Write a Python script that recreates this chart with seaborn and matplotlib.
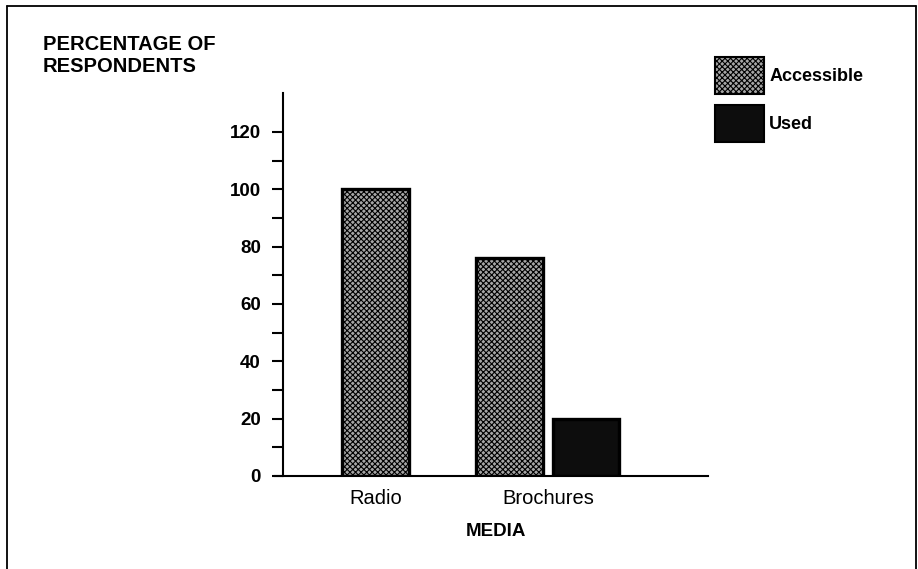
import matplotlib
matplotlib.use("Agg")
import matplotlib.pyplot as plt
import seaborn as sns
import pandas as pd
import numpy as np
from matplotlib.patches import Patch
from matplotlib.lines import Line2D
from matplotlib.ticker import FixedLocator

# data
media = ['Radio', 'Brochures']
groups = ['Accessible', 'Used']
accessible = [100, 76]
used = [np.nan, 20]   # no "Used" bar for Radio
y_ticks = [0, 20, 40, 60, 80, 100, 120]

df = pd.DataFrame({
    'media': media * 2,
    'group': [groups[0]] * len(media) + [groups[1]] * len(media),
    'value': accessible + used,
})

sns.set_theme(style="white")
plt.rcParams['font.family'] = ['Liberation Sans', 'DejaVu Sans']
plt.rcParams['text.color'] = 'black'
plt.rcParams['hatch.linewidth'] = 0.8

acc_color = '#a6a6a6'
used_color = '#0d0d0d'

fig = plt.figure(figsize=(9.18, 5.69), dpi=100)
ax = fig.add_axes([283 / 918, 1 - 476 / 569, (708 - 283) / 918, (476 - 93) / 569])

sns.barplot(data=df, x='media', y='value', hue='group', hue_order=groups,
            palette=[acc_color, used_color], width=0.884, gap=0.12,
            edgecolor='black', linewidth=2.4, legend=False, ax=ax)

# hatch the accessible bars, and center lone bars on their category
bars = [p for p in ax.patches if np.isfinite(p.get_height()) and p.get_height() > 0]
by_cat = {}
for p in bars:
    c = int(round(p.get_x() + p.get_width() / 2))
    by_cat.setdefault(c, []).append(p)
    if np.allclose(p.get_facecolor()[:3], matplotlib.colors.to_rgb(acc_color)):
        p.set_hatch('xxxxxx')
for c, ps in by_cat.items():
    if len(ps) == 1:
        ps[0].set_x(c - ps[0].get_width() / 2)

ax.set_xlim(-0.54, 1.93)
ax.set_ylim(0, 133.6)
ax.set_yticks(y_ticks)
ax.yaxis.set_minor_locator(FixedLocator([t + 10 for t in y_ticks[:-1]]))
ax.set_yticklabels([str(t) for t in y_ticks], fontsize=13.5, fontweight='bold')
ax.tick_params(axis='y', which='both', left=True, direction='out', length=8,
               width=1.5, color='black', pad=8, labelcolor='black')
ax.tick_params(axis='x', length=0, pad=9, labelsize=14.5, labelcolor='black')

for s in ['top', 'right']:
    ax.spines[s].set_visible(False)
ax.spines['left'].set_color('black')
ax.spines['left'].set_linewidth(1.5)
ax.spines['bottom'].set_color('black')
ax.spines['bottom'].set_linewidth(1.5)
ax.spines['bottom'].set_bounds(-0.54 - 8 / 172, 1.93)
ax.set_xlabel('')
ax.set_ylabel('')

fig.text(0.5 * (283 + 708) / 918, 1 - 531 / 569, 'MEDIA', ha='center', va='center',
         fontsize=13.5, fontweight='bold', color='black')
fig.text(43 / 918, 1 - 35 / 569, 'PERCENTAGE OF\nRESPONDENTS', ha='left', va='top',
         fontsize=14.5, fontweight='bold', linespacing=1.2, color='black')

handles = [Patch(facecolor=acc_color, edgecolor='black', hatch='xxxxxx', linewidth=1.5),
           Patch(facecolor=used_color, edgecolor='black', linewidth=1.5)]
leg = fig.legend(handles, groups, loc='upper left',
                 bbox_to_anchor=(715 / 918, 1 - 57 / 569), bbox_transform=fig.transFigure,
                 frameon=False, borderpad=0, borderaxespad=0,
                 handlelength=2.7, handleheight=2.8, handletextpad=0.3,
                 labelspacing=0.6, prop={'size': 13, 'weight': 'bold'})
for t in leg.get_texts():
    t.set_color('black')

# frame around the figure (left, top, right)
for xs, ys in [([7, 7], [6, 569]), ([7, 916], [6, 6]), ([916, 916], [6, 569])]:
    fig.add_artist(Line2D([x / 918 for x in xs], [1 - y / 569 for y in ys],
                          transform=fig.transFigure, color='black', linewidth=1.3))

fig.savefig('out.png', dpi=100)
